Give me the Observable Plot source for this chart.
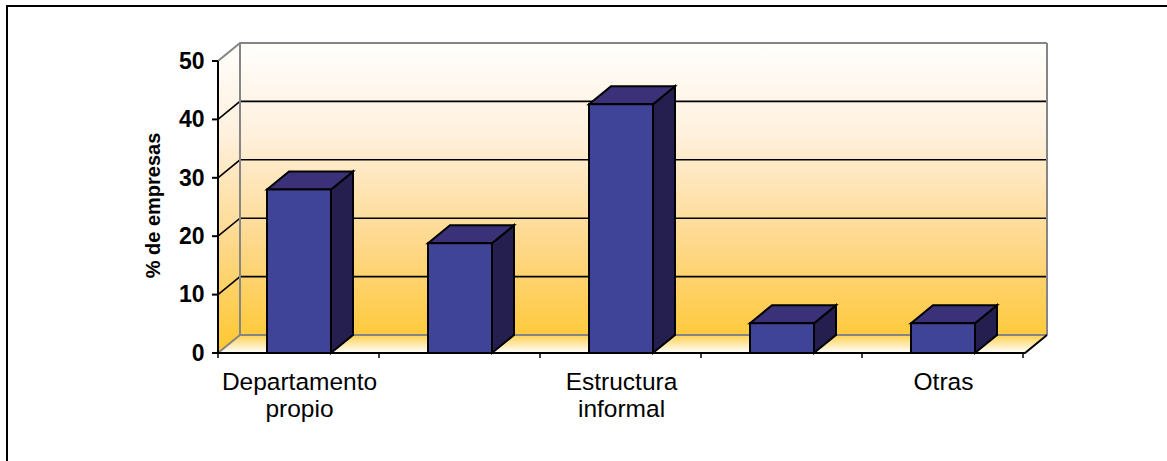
<!DOCTYPE html>
<html><head><meta charset="utf-8">
<script src="https://cdn.jsdelivr.net/npm/d3@7"></script>
<script src="https://cdn.jsdelivr.net/npm/@observablehq/plot@0.6"></script>
<style>
html,body{margin:0;padding:0;background:#fff;}
#wrap{position:relative;width:1167px;height:461px;overflow:hidden;}
#frame{position:absolute;left:6px;top:5px;right:-10px;bottom:-10px;border-top:2px solid #000;border-left:2px solid #000;}
#chart{position:absolute;left:0;top:0;}
</style></head><body>
<div id="wrap"><div id="frame"></div><div id="chart"></div></div>
<script>
// ---- data ----
const categoryLabels = ["Departamento\npropio", "", "Estructura\ninformal", "", "Otras"];
const values = [28.0, 18.8, 42.6, 5.1, 5.1];
const yTicks = [0, 10, 20, 30, 40, 50];
const yTitle = "% de empresas";

// ---- style ----
const DX = 22, DY = -18;
const FRONT = "#404499", TOP = "#3a3178", SIDE = "#251f50";
const data = values.map((v, i) => ({i, v, label: categoryLabels[i]}));

function walls(index, scales) {
  const {x, y} = scales;
  const [x0, x1] = x.range();
  const step = x.step();
  const n = x.domain().length;
  const y0 = y(0), yT = y(yTicks[yTicks.length - 1]);
  const g = d3.create("svg:g");
  const defs = g.append("defs");
  const gw = defs.append("linearGradient").attr("id", "gw").attr("gradientUnits", "userSpaceOnUse")
    .attr("x1", 0).attr("x2", 0).attr("y1", yT + DY).attr("y2", y0);
  [[0, "#fffefc"], [0.3, "#fff0dc"], [0.65, "#fed88a"], [1, "#ffc72e"]].forEach(([o, c]) => gw.append("stop").attr("offset", o).attr("stop-color", c));
  const gf = defs.append("linearGradient").attr("id", "gf").attr("gradientUnits", "userSpaceOnUse")
    .attr("x1", 0).attr("x2", 0).attr("y1", y0 + DY).attr("y2", y0);
  [[0, "#ffd050"], [1, "#ffffff"]].forEach(([o, c]) => gf.append("stop").attr("offset", o).attr("stop-color", c));
  const P = pts => pts.map(p => p.join(",")).join(" ");
  // back wall
  g.append("rect").attr("x", x0 + DX).attr("y", yT + DY).attr("width", x1 - x0).attr("height", y0 - yT).attr("fill", "url(#gw)");
  // left wall
  g.append("polygon").attr("points", P([[x0, yT], [x0 + DX, yT + DY], [x0 + DX, y0 + DY], [x0, y0]])).attr("fill", "url(#gw)");
  // floor
  g.append("polygon").attr("points", P([[x0, y0], [x1, y0], [x1 + DX, y0 + DY], [x0 + DX, y0 + DY]])).attr("fill", "url(#gf)");
  // gridlines
  for (const t of yTicks) {
    const yy = y(t);
    const edge = (t === yTicks[0] || t === yTicks[yTicks.length - 1]);
    g.append("polyline").attr("points", P([[x0, yy], [x0 + DX, yy + DY], [x1 + DX, yy + DY]]))
      .attr("fill", "none").attr("stroke", edge ? "#858585" : "#000").attr("stroke-width", edge ? 2 : 1.6);
  }
  // wall edges
  g.append("line").attr("x1", x0 + DX).attr("x2", x0 + DX).attr("y1", yT + DY).attr("y2", y0 + DY).attr("stroke", "#858585").attr("stroke-width", 2);
  g.append("line").attr("x1", x1 + DX).attr("x2", x1 + DX).attr("y1", yT + DY).attr("y2", y0 + DY).attr("stroke", "#858585").attr("stroke-width", 2);
  // floor front edge + right diagonal
  g.append("polyline").attr("points", P([[x0, y0], [x1, y0], [x1 + DX, y0 + DY]])).attr("fill", "none").attr("stroke", "#000").attr("stroke-width", 2);
  // x ticks at category boundaries
  for (let k = 0; k <= n; k++) {
    const xx = x0 + k * step;
    g.append("line").attr("x1", xx).attr("x2", xx).attr("y1", y0).attr("y2", y0 + 5).attr("stroke", "#000").attr("stroke-width", 1.5);
  }
  // y axis line and ticks
  g.append("line").attr("x1", x0).attr("x2", x0).attr("y1", yT).attr("y2", y0).attr("stroke", "#000").attr("stroke-width", 2);
  for (const t of yTicks) {
    g.append("line").attr("x1", x0 - 6).attr("x2", x0).attr("y1", y(t)).attr("y2", y(t)).attr("stroke", "#000").attr("stroke-width", 2);
  }
  return g.node();
}

function barDepth(index, scales) {
  const {x, y} = scales;
  const bw = x.bandwidth();
  const y0 = y(0);
  const g = d3.create("svg:g").attr("stroke", "#000").attr("stroke-width", 2).attr("stroke-linejoin", "miter");
  const P = pts => pts.map(p => p.join(",")).join(" ");
  data.forEach(d => {
    const xl = x(d.i), xr = xl + bw, yt = y(d.v);
    g.append("polygon").attr("points", P([[xr, yt], [xr + DX, yt + DY], [xr + DX, y0 + DY], [xr, y0]])).attr("fill", SIDE);
    g.append("polygon").attr("points", P([[xl, yt], [xl + DX, yt + DY], [xr + DX, yt + DY], [xr, yt]])).attr("fill", TOP);
  });
  return g.node();
}

const chart = Plot.plot({
  width: 1167, height: 461,
  marginLeft: 218, marginRight: 142, marginTop: 61, marginBottom: 108,
  style: {background: "transparent", fontFamily: "'Liberation Sans', Arial, sans-serif", overflow: "visible"},
  x: {type: "band", domain: d3.range(values.length), paddingInner: 0.6, paddingOuter: 0.3, axis: null},
  y: {domain: [0, 50], axis: null},
  marks: [
    walls,
    barDepth,
    Plot.barY(data, {x: "i", y: "v", fill: FRONT, stroke: "#000", strokeWidth: 2}),
    Plot.text(yTicks, {y: d => d, text: d => String(d), frameAnchor: "left", textAnchor: "end", dx: -14, fontSize: 23, fontWeight: "bold", fill: "#000"}),
    Plot.text([yTitle], {text: d => d, frameAnchor: "left", textAnchor: "middle", dx: -65, dy: -2, rotate: -90, fontSize: 20, fontWeight: "bold", fill: "#000"}),
    Plot.text(data, {x: "i", text: "label", frameAnchor: "bottom", lineAnchor: "top", dy: 17, fontSize: 24.5, lineHeight: 1.1, fill: "#000"})
  ]
});
document.getElementById("chart").appendChild(chart);
</script>
</body></html>
